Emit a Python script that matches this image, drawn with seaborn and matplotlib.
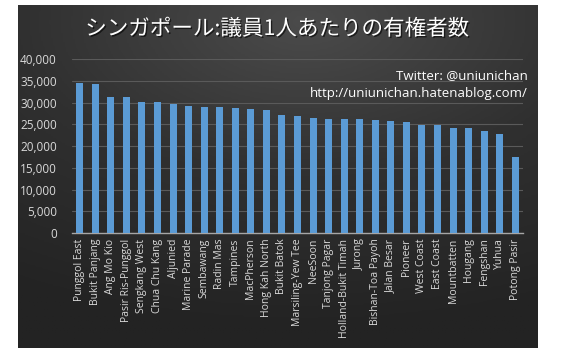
import numpy as np
import pandas as pd
import matplotlib
matplotlib.use("Agg")
import matplotlib.pyplot as plt
import matplotlib.patheffects as pe
from matplotlib.ticker import FuncFormatter
import seaborn as sns

# data
districts = ["Punggol East", "Bukit Panjang", "Ang Mo Kio", "Pasir Ris-Punggol",
             "Sengkang West", "Chua Chu Kang", "Aljunied", "Marine Parade",
             "Sembawang", "Radin Mas", "Tampines", "MacPherson", "Hong Kah North",
             "Bukit Batok", "Marsiling-Yew Tee", "NeeSoon", "Tanjong Pagar",
             "Holland-Bukit Timah", "Jurong", "Bishan-Toa Payoh", "Jalan Besar",
             "Pioneer", "West Coast", "East Coast", "Mountbatten", "Hougang",
             "Fengshan", "Yuhua", "Potong Pasir"]
voters = [34560, 34330, 31320, 31300, 30140, 30120, 29700, 29240,
          29000, 29000, 28770, 28470, 28310, 27150, 26920, 26460, 26230,
          26230, 26230, 26000, 25770, 25530, 24840, 24840, 24150, 24150,
          23450, 22760, 17430]
yticks = [0, 5000, 10000, 15000, 20000, 25000, 30000, 35000, 40000]

df = pd.DataFrame({"district": districts, "voters": voters})

sns.set_style("dark")
plt.rcParams["font.family"] = ["Open Sans", "DejaVu Sans"]

fig = plt.figure(figsize=(5.88, 3.53), dpi=100)
fig.patch.set_facecolor("white")

# dark gradient panel
bg = fig.add_axes([18/588, 1 - 348/353, (538-18)/588, (348-5)/353])
yy, xx = np.mgrid[0:1:200j, 0:1:300j]
r = np.sqrt(((xx - 0.55) / 1.1) ** 2 + ((yy - 0.05) / 0.9) ** 2)
bg.imshow(r, cmap=matplotlib.colors.LinearSegmentedColormap.from_list(
    "g", ["#4b4b4b", "#303030", "#232323"]), aspect="auto",
    extent=[0, 1, 0, 1], origin="upper", vmin=0, vmax=1)
bg.set_axis_off()

ax = fig.add_axes([72/588, 1 - 233/353, (523-72)/588, (233-59.4)/353])
ax.set_facecolor("none")
sns.barplot(data=df, x="district", y="voters", color="#5b9bd5",
            width=0.45, saturation=1, linewidth=0, ax=ax, zorder=3)

ax.set_xlim(-0.5, len(districts) - 0.5)
ax.set_ylim(0, 40000)
ax.set_yticks(yticks)
ax.yaxis.set_major_formatter(FuncFormatter(lambda v, p: f"{int(v):,}"))
ax.grid(axis="y", color="#5a5a5a", linewidth=0.8, zorder=0)
ax.grid(axis="x", visible=False)
ax.set_xlabel("")
ax.set_ylabel("")
for s in ["top", "right", "left"]:
    ax.spines[s].set_visible(False)
ax.spines["bottom"].set_color("#a6a6a6")
ax.spines["bottom"].set_linewidth(1)
ax.tick_params(axis="both", length=0, colors="#d9d9d9")
ax.tick_params(axis="y", pad=11, labelsize=8.5)
ax.tick_params(axis="x", pad=4, labelsize=7.5)
plt.setp(ax.get_xticklabels(), rotation=90)

fig.text(277/588, 1 - 29/353, "シンガポール:議員1人あたりの有権者数",
         ha="center", va="center", color="white", fontsize=15.5,
         family=["Noto Sans CJK JP", "DejaVu Sans"],
         path_effects=[pe.withSimplePatchShadow(offset=(1, -1),
                                                shadow_rgbFace="black", alpha=0.6)])
fig.text(528/588, 1 - 76/353, "Twitter: @uniunichan", ha="right", va="center",
         color="white", fontsize=9.5)
fig.text(528/588, 1 - 93/353, "http://uniunichan.hatenablog.com/", ha="right",
         va="center", color="white", fontsize=9.5)

fig.savefig("out.png", dpi=100, facecolor="white")
